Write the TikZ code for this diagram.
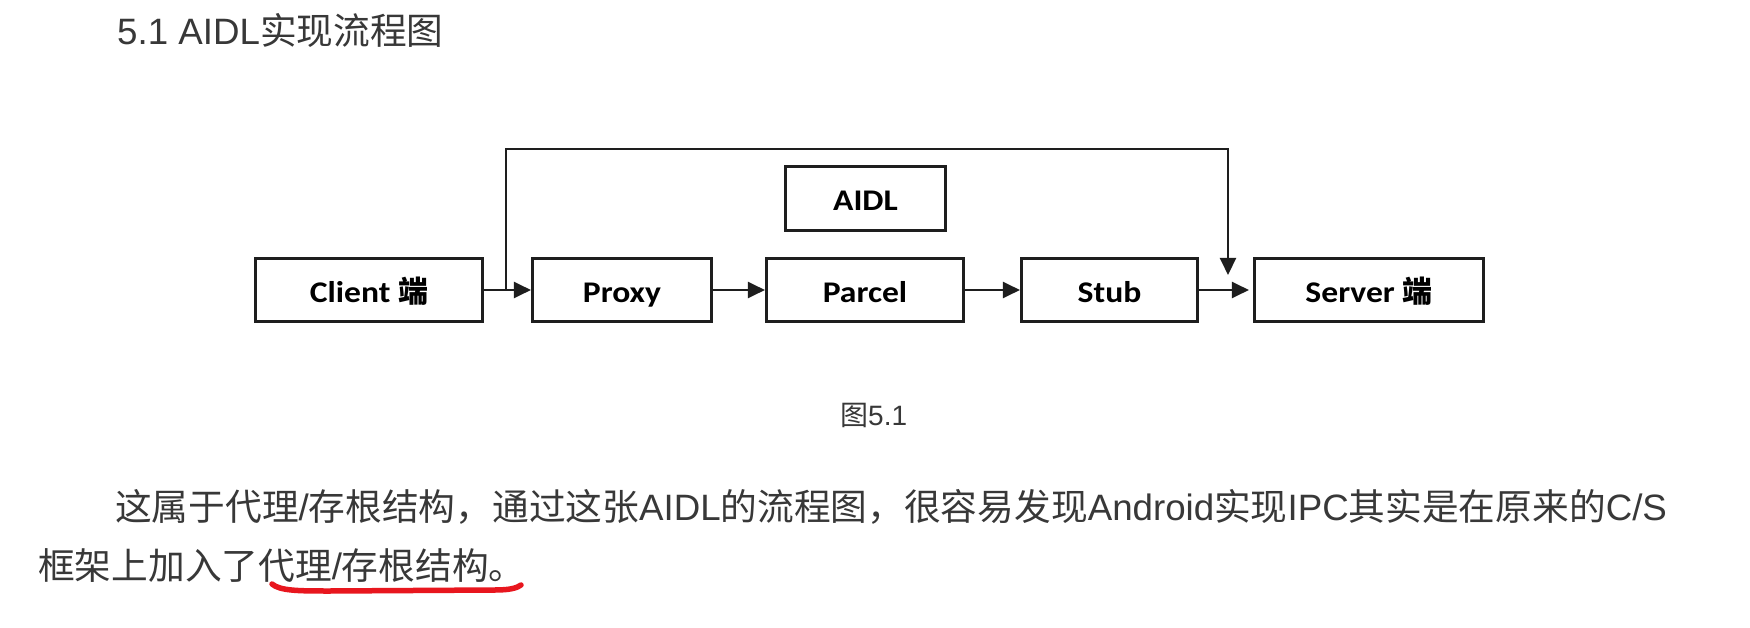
\documentclass[tikz,border=0pt]{standalone}
\usepackage{fontspec}
\setmainfont{Liberation Sans}
\newfontfamily\cjk{Noto Sans CJK SC}
\newfontfamily\boxfont[FakeStretch=1.12]{Carlito}
\usetikzlibrary{arrows.meta}
\definecolor{txt}{HTML}{383838}
\definecolor{boxline}{HTML}{1E1E1E}
\definecolor{uline}{HTML}{E8161E}
\begin{document}
\begin{tikzpicture}[x=1pt,y=-1pt,
  box/.style={draw=boxline, line width=2.6pt, fill=white, inner sep=0pt,
    minimum height=63.5pt, text height=28pt, text depth=4pt,
    font=\boxfont\bfseries\fontsize{30}{36}\selectfont, text=black},
  conn/.style={draw=boxline, line width=2pt, -{Triangle[length=17pt,width=16pt]}},
  plain/.style={anchor=base west, inner sep=0pt, text=txt}]
\useasboundingbox[fill=white] (0,0) rectangle (1750,628);

% title
\node[plain, font=\fontsize{36.7}{40}\selectfont] (title) at (117,45) {5.1 AIDL{\cjk 实现流程图}};

% boxes
\node[box, minimum width=227.5pt] (client) at (369,290) {Client {\cjk\bfseries 端}};
\node[box, minimum width=179.5pt] (proxy)  at (622,290) {Proxy};
\node[box, minimum width=197.5pt] (parcel) at (865,290) {Parcel};
\node[box, minimum width=176.5pt] (stub)   at (1109.5,290) {Stub};
\node[box, minimum width=229.5pt] (server) at (1369,290) {Server {\cjk\bfseries 端}};
\node[box, minimum width=160.5pt, minimum height=64.5pt] (aidl) at (865.5,198.5) {AIDL};

% connectors
\draw[conn] (client.east) -- (proxy.west);
\draw[conn] (proxy.east) -- (parcel.west);
\draw[conn] (parcel.east) -- (stub.west);
\draw[conn, shorten >=4pt] (stub.east) -- (server.west);
\coordinate (junction) at (506,290);
\coordinate (topright) at (1228,149);
\coordinate (drop) at (1228,275);
\draw[conn, line join=miter] (junction) |- (topright) -- (drop);

% caption
\node[plain, font=\fontsize{28}{32}\selectfont] (caption) at (840,425) {{\cjk 图}5.1};

% paragraph
\node[plain, font=\fontsize{36.7}{40}\selectfont] (line1) at (115,520)
  {{\cjk 这属于代理}/{\cjk 存根结构，通过这张}AIDL{\cjk 的流程图，很容易发现}Android{\cjk 实现}IPC{\cjk 其实是在原来的}C/S};
\node[plain, font=\fontsize{36.7}{40}\selectfont] (line2) at (38,579)
  {{\cjk 框架上加入了代理}/{\cjk 存根结构。}};

% red hand-drawn underline
\draw[uline, line width=5.5pt, line cap=round]
  (272,584) .. controls (280,591) and (300,591) .. (330,591)
  -- (495,590) .. controls (510,590) and (517,588) .. (521,585);
\end{tikzpicture}
\end{document}
